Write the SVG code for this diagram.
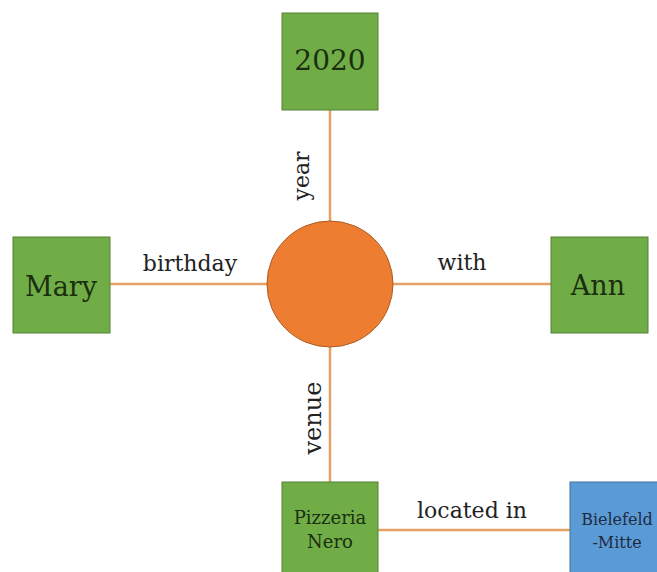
<svg xmlns="http://www.w3.org/2000/svg" width="657" height="572" viewBox="0 0 657 572">
<style>
.box{fill:#70AD47;stroke:#548235;stroke-width:1}
.blue{fill:#5B9BD5;stroke:#41719C;stroke-width:1}
.hub{fill:#ED7D31;stroke:#AE5A21;stroke-width:1}
.edge{stroke:#E5A266;stroke-width:2.5;fill:none}
.nt{font-family:"DejaVu Serif","Liberation Serif",serif;fill:#1B2E10;text-anchor:middle}
.lbl{font-family:"DejaVu Serif","Liberation Serif",serif;fill:#222;text-anchor:middle;font-size:22px}
</style>
<rect width="657" height="572" fill="#fff"/>
<g id="connectors">
<line class="edge" x1="330" y1="110" x2="330" y2="221"/>
<line class="edge" x1="330" y1="347" x2="330" y2="482"/>
<line class="edge" x1="110" y1="284" x2="267" y2="284"/>
<line class="edge" x1="393" y1="284" x2="551" y2="284"/>
<line class="edge" x1="378" y1="530" x2="570" y2="530"/>
<text class="lbl" x="190" y="271">birthday</text>
<text class="lbl" x="462" y="270">with</text>
<text class="lbl" x="472" y="518">located in</text>
<text class="lbl" transform="translate(309,176) rotate(-90)">year</text>
<text class="lbl" style="font-size:24px" transform="translate(321,418) rotate(-90)">venue</text>
</g>
<g id="hub"><circle class="hub" cx="330" cy="284" r="63"/></g>
<g id="n2020"><rect class="box" x="282" y="13" width="96" height="97"/><text class="nt" x="330" y="70" font-size="28">2020</text></g>
<g id="mary"><rect class="box" x="13" y="237" width="97" height="96"/><text class="nt" x="61" y="296" font-size="27">Mary</text></g>
<g id="ann"><rect class="box" x="551" y="237" width="97" height="96"/><text class="nt" x="598" y="295" font-size="27">Ann</text></g>
<g id="pizzeria"><rect class="box" x="282" y="482" width="96" height="95"/><text class="nt" x="330" y="524" font-size="18">Pizzeria</text><text class="nt" x="330" y="548" font-size="18">Nero</text></g>
<g id="bielefeld"><rect class="blue" x="570" y="482" width="95" height="95"/><text class="nt" x="617" y="525" font-size="16" style="fill:#1F2A44">Bielefeld</text><text class="nt" x="617" y="548" font-size="16" style="fill:#1F2A44">-Mitte</text></g>
</svg>
